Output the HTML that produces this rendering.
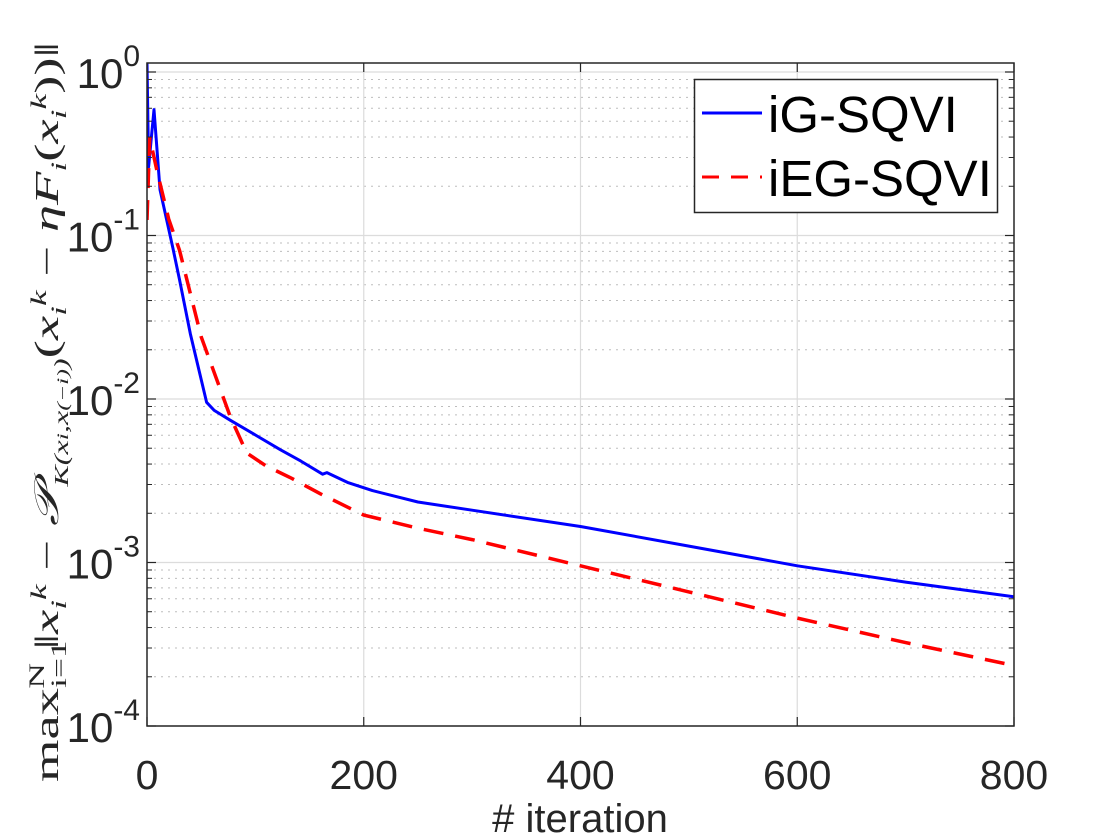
<!DOCTYPE html>
<html><head><meta charset="utf-8"><style>
html,body{margin:0;padding:0;background:#fff;}
svg{display:block;font-family:"Liberation Sans",Arial,sans-serif;}
</style></head><body>
<svg id="chart" width="1120" height="840" viewBox="0 0 1120 840">
<g id="grid"></g>
<g id="series"></g>
<g id="axes"></g>
<g transform="translate(58,412) rotate(-90)">
<text x="0" y="0" text-anchor="middle" font-family="'Liberation Serif',serif" font-size="34" font-weight="normal" fill="#262626" textLength="740" lengthAdjust="spacingAndGlyphs">max<tspan font-size="22" dy="8">i=1</tspan><tspan font-size="22" dx="-30" dy="-22">N</tspan><tspan dy="14"> ‖</tspan><tspan font-style="italic">x</tspan><tspan font-size="22" font-style="italic" dy="8">i</tspan><tspan font-size="22" font-style="italic" dy="-20">k</tspan><tspan dy="12"> − </tspan><tspan font-style="italic">𝒫</tspan><tspan font-size="20" font-style="italic" dy="10">K(x</tspan><tspan font-size="16" font-style="italic">i</tspan><tspan font-size="20" font-style="italic">,x</tspan><tspan font-size="16" font-style="italic">(−i)</tspan><tspan font-size="20" font-style="italic">)</tspan><tspan dy="-10">(</tspan><tspan font-style="italic">x</tspan><tspan font-size="22" font-style="italic" dy="8">i</tspan><tspan font-size="22" font-style="italic" dy="-20">k</tspan><tspan dy="12"> − </tspan><tspan font-style="italic">ηF</tspan><tspan font-size="22" font-style="italic" dy="8">i</tspan><tspan dy="-8">(</tspan><tspan font-style="italic">x</tspan><tspan font-size="22" font-style="italic" dy="8">i</tspan><tspan font-size="22" font-style="italic" dy="-20">k</tspan><tspan dy="12">))‖</tspan></text>
</g>
<text x="580" y="832" text-anchor="middle" font-size="40" fill="#262626"># iteration</text>
<g>
<rect x="694.5" y="79.5" width="303" height="133" fill="#fff" stroke="#262626" stroke-width="1.5"/>
<line x1="702" y1="113" x2="762" y2="113" stroke="#0000ff" stroke-width="3"/>
<text x="768" y="132" font-size="51" fill="#000">iG-SQVI</text>
<line x1="702" y1="177" x2="762" y2="177" stroke="#ff0000" stroke-width="3" stroke-dasharray="17,12"/>
<text x="768" y="196" font-size="51" fill="#000">iEG-SQVI</text>
</g>
</svg>
<script>
const xTicks = [0, 200, 400, 600, 800];
const yDecades = [0, -1, -2, -3, -4];
const igX = [0, 1.5, 6.5, 12, 24, 30, 40, 55, 62, 77, 100, 123, 142, 162, 166, 185, 208, 250, 300, 400, 500, 600, 700, 800];
const igY = [0.06, -0.58, -0.23, -0.72, -1.08, -1.27, -1.6, -2.02, -2.07, -2.13, -2.22, -2.31, -2.38, -2.46, -2.45, -2.51, -2.56, -2.63, -2.68, -2.78, -2.9, -3.02, -3.12, -3.21];
const iegX = [0, 2.5, 9, 20, 30, 50, 77, 92, 110, 132, 160, 200, 250, 300, 400, 500, 600, 700, 800];
const iegY = [-0.905, -0.40, -0.6, -0.9, -1.09, -1.62, -2.11, -2.33, -2.41, -2.48, -2.58, -2.71, -2.79, -2.86, -3.02, -3.18, -3.34, -3.49, -3.63];

const NS = 'http://www.w3.org/2000/svg';
const L = 147, R = 1014, T = 63, B = 726;
const yTopLog = 0.055, yBotLog = -4;
function sx(v){ return L + (v - 0) / 800 * (R - L); }
function sy(lg){ return B - (lg - yBotLog) / (yTopLog - yBotLog) * (B - T); }
function mk(tag, attrs, parent){ const e = document.createElementNS(NS, tag); for (const k in attrs) e.setAttribute(k, attrs[k]); parent.appendChild(e); return e; }
const grid = document.getElementById('grid'), axes = document.getElementById('axes'), series = document.getElementById('series');

for (let d = -4; d < 0.1; d++) {
  for (let m = 2; m <= 9; m++) {
    const lg = d + Math.log10(m);
    if (lg > yTopLog) continue;
    const y = sy(lg);
    const g = mk('line', {x1: L, x2: R, y1: y, y2: y, stroke: '#bdbdbd', 'stroke-width': 1, 'stroke-dasharray': '2,5'}, grid);
    
    
    mk('line', {x1: L, x2: L + 5, y1: y, y2: y, stroke: '#262626', 'stroke-width': 1}, axes);
    mk('line', {x1: R, x2: R - 5, y1: y, y2: y, stroke: '#262626', 'stroke-width': 1}, axes);
  }
}
yDecades.forEach(d => {
  const y = sy(d);
  const g = mk('line', {x1: L, x2: R, y1: y, y2: y, stroke: '#dcdcdc', 'stroke-width': 1.2}, grid);
  
  
  mk('line', {x1: L, x2: L + 9, y1: y, y2: y, stroke: '#262626', 'stroke-width': 1.2}, axes);
  mk('line', {x1: R, x2: R - 9, y1: y, y2: y, stroke: '#262626', 'stroke-width': 1.2}, axes);
  const t = mk('text', {x: 140, y: y + 16, 'text-anchor': 'end', 'font-size': 42, fill: '#262626'}, axes);
  
  
  t.textContent = '10';
  const s = mk('tspan', {dy: -22, 'font-size': 30}, t);
  s.textContent = d === 0 ? '0' : '-' + (-d);
});
xTicks.forEach(v => {
  const x = sx(v);
  if (v > 0 && v < 800) {
    const g = mk('line', {x1: x, x2: x, y1: T, y2: B, stroke: '#dcdcdc', 'stroke-width': 1.2}, grid);
    
    
  }
  mk('line', {x1: x, x2: x, y1: B, y2: B - 9, stroke: '#262626', 'stroke-width': 1.2}, axes);
  mk('line', {x1: x, x2: x, y1: T, y2: T + 9, stroke: '#262626', 'stroke-width': 1.2}, axes);
  const t = mk('text', {x: x, y: 789, 'text-anchor': 'middle', 'font-size': 41, fill: '#262626'}, axes);
  
  
  t.textContent = v;
});
const box = mk('rect', {x: L, y: T, width: R - L, height: B - T, fill: 'none', stroke: '#262626', 'stroke-width': 1.5}, axes);



function pathFrom(xs, ys){ return xs.map((v, i) => (i ? 'L' : 'M') + sx(v).toFixed(1) + ',' + sy(ys[i]).toFixed(1)).join(' '); }
const clip = mk('clipPath', {id: 'pc'}, series);
mk('rect', {x: L, y: T, width: R - L, height: B - T}, clip);
const p1 = mk('path', {d: pathFrom(igX, igY), fill: 'none', stroke: '#0000ff', 'stroke-width': 3, 'clip-path': 'url(#pc)', 'stroke-linejoin': 'round'}, series);


const p2 = mk('path', {d: pathFrom(iegX, iegY), fill: 'none', stroke: '#ff0000', 'stroke-width': 3.5, 'stroke-dasharray': '20,12', 'clip-path': 'url(#pc)'}, series);


</script>
</body></html>
